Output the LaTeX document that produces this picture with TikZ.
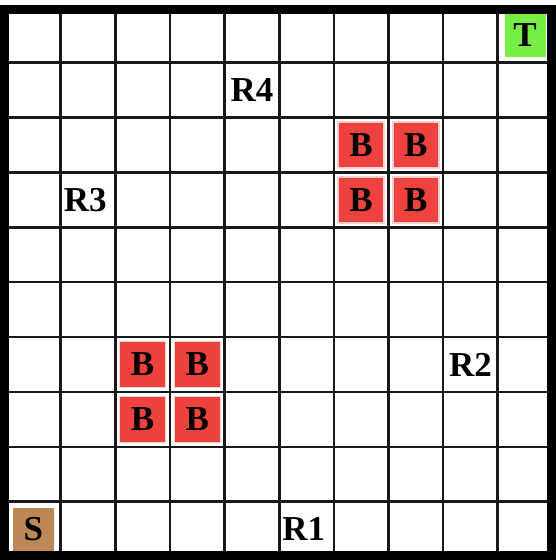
\documentclass[tikz,border=0pt]{standalone}
\usepackage{fontspec}
\setmainfont{Liberation Serif}
\definecolor{bred}{RGB}{238,66,62}
\definecolor{tgreen}{RGB}{119,238,68}
\definecolor{sbrown}{RGB}{190,136,84}
\tikzset{
  gridline/.style={line width=2.6pt, black!90},
  border/.style={line width=9pt, black},
  lbl/.style={font=\fontsize{35}{35}\selectfont\bfseries, text=black, inner sep=0pt},
  bbox/.style={lbl, fill=bred, draw=white!75!bred, line width=1.5pt, minimum width=46pt, minimum height=46pt},
  tbox/.style={lbl, fill=tgreen, minimum width=41pt, minimum height=44pt},
  sbox/.style={lbl, fill=sbrown, minimum width=41pt, minimum height=43pt},
}
\begin{document}
\begin{tikzpicture}[x=1pt,y=1pt]
\useasboundingbox (0,0) rectangle (555,-560);
\fill[white] (0,0) rectangle (555,-560);
\begin{scope}[shift={(6.1pt,-7.8pt)}, x=54.625pt, y=-54.875pt]
  \foreach \i in {1,...,9} {
    \draw[gridline] (\i,0) -- (\i,10);
    \draw[gridline] (0,\i) -- (10,\i);
  }
  % special cells
  \node[tbox] (T) at (9.5,0.5) {T};
  \node[sbox] (S) at (0.5,9.5) {S};
  \node[bbox] (B1) at (6.5,2.5) {B};
  \node[bbox] (B2) at (7.5,2.5) {B};
  \node[bbox] (B3) at (6.5,3.5) {B};
  \node[bbox] (B4) at (7.5,3.5) {B};
  \node[bbox] (B5) at (2.5,6.5) {B};
  \node[bbox] (B6) at (3.5,6.5) {B};
  \node[bbox] (B7) at (2.5,7.5) {B};
  \node[bbox] (B8) at (3.5,7.5) {B};
  % labels
  \node[lbl] (R4) at (4.5,1.5) {R4};
  \node[lbl] (R3) at (1.45,3.5) {R3};
  \node[lbl] (R2) at (8.5,6.5) {R2};
  \node[lbl] (R1) at (5.45,9.5) {R1};
\end{scope}
\draw[border] (4,-9.5) rectangle (551.7,-555.5);
\end{tikzpicture}
\end{document}
